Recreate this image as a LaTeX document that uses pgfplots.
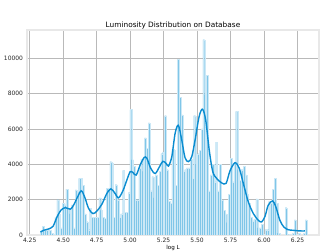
\documentclass[border=0pt]{standalone}
\usepackage{pgfplots}
\pgfplotsset{compat=1.18}
\usepackage{pgfplotstable}
\usepackage{fontspec}
\setmainfont{DejaVu Sans}
\definecolor{barfill}{RGB}{128,198,232}
\definecolor{kdeline}{RGB}{10,140,208}
\definecolor{gridc}{RGB}{185,185,185}
\definecolor{framec}{RGB}{232,232,232}
\pgfplotstableread{
x y
4.3368 200
4.3504 480
4.3641 260
4.3777 300
4.3913 300
4.4050 280
4.4186 100
4.4322 30
4.4458 1000
4.4595 2000
4.4731 1200
4.4867 400
4.5004 1800
4.5140 1700
4.5276 2600
4.5413 1500
4.5549 1200
4.5685 1700
4.5821 400
4.5958 2550
4.6094 2400
4.6230 3200
4.6367 3200
4.6503 2800
4.6639 1200
4.6776 750
4.6912 300
4.7048 1500
4.7184 1000
4.7321 1000
4.7457 1000
4.7593 1000
4.7730 2100
4.7866 1400
4.8002 1000
4.8139 950
4.8275 2650
4.8411 2650
4.8547 4150
4.8684 4050
4.8820 1000
4.8956 2850
4.9093 2000
4.9229 1000
4.9365 1200
4.9502 3650
4.9638 1300
4.9774 1300
4.9910 2400
5.0047 7100
5.0183 4250
5.0319 3900
5.0456 2000
5.0592 2000
5.0728 3800
5.0865 4300
5.1001 3600
5.1137 5500
5.1273 4900
5.1410 6350
5.1546 2500
5.1682 3300
5.1819 2100
5.1955 3400
5.2091 2800
5.2228 3600
5.2364 4600
5.2500 4700
5.2636 6750
5.2773 3700
5.2909 1900
5.3045 1800
5.3182 4850
5.3318 4800
5.3454 2800
5.3591 9950
5.3727 7800
5.3863 6800
5.3999 3600
5.4136 3700
5.4272 3800
5.4408 3800
5.4545 4300
5.4681 3200
5.4817 6750
5.4954 4000
5.5090 4600
5.5226 4800
5.5362 6000
5.5499 11050
5.5635 7950
5.5771 9050
5.5908 2500
5.6044 3400
5.6180 4000
5.6317 3000
5.6453 5250
5.6589 2500
5.6725 4000
5.6862 2000
5.6998 1400
5.7134 1200
5.7271 700
5.7407 2300
5.7543 4350
5.7680 3000
5.7816 4100
5.7952 7000
5.8088 3700
5.8225 3100
5.8361 3700
5.8497 3900
5.8634 3400
5.8770 2300
5.8906 1800
5.9043 1000
5.9179 800
5.9315 900
5.9451 2050
5.9588 400
5.9724 400
5.9860 600
5.9997 0
6.0133 300
6.0269 300
6.0406 1900
6.0542 1800
6.0678 2600
6.0814 3200
6.0951 1800
6.1087 100
6.1223 0
6.1360 0
6.1496 0
6.1632 1550
6.1769 0
6.1905 50
6.2041 0
6.2177 100
6.2314 850
6.2450 0
6.2586 100
6.2723 0
6.2859 0
6.2995 100
6.3132 850
}\histdata
\pgfplotstableread{
x y
4.330 170
4.354 265
4.390 340
4.424 490
4.454 1020
4.483 1400
4.516 1550
4.553 1460
4.578 1690
4.608 2160
4.635 2500
4.660 2160
4.690 1500
4.722 1210
4.752 1360
4.789 1740
4.826 2350
4.856 2610
4.884 2390
4.913 2100
4.946 2500
4.975 3100
5.000 3580
5.020 3540
5.045 3390
5.075 3960
5.105 4390
5.125 4340
5.154 3770
5.187 3480
5.219 3860
5.244 4170
5.269 4050
5.286 3900
5.311 4430
5.336 5760
5.360 6210
5.385 5380
5.410 4370
5.435 4150
5.460 4430
5.485 5380
5.515 6700
5.540 7120
5.564 6510
5.592 4720
5.617 3580
5.646 3200
5.683 2950
5.716 2920
5.746 3640
5.783 4090
5.815 3770
5.845 2920
5.882 1880
5.920 1210
5.957 830
5.982 740
6.007 1060
6.031 1690
6.064 1930
6.088 1590
6.118 830
6.148 450
6.180 300
6.218 265
6.267 230
6.305 230
}\kdedata
\begin{document}
\begin{tikzpicture}[x=1bp,y=1bp]
\useasboundingbox (0,0) rectangle (336,252);
\begin{axis}[
  at={(27bp,17bp)}, anchor=south west,
  scale only axis, width=292bp, height=205bp,
  xmin=4.23, xmax=6.41, ymin=0, ymax=11600,
  xtick={4.25,4.5,4.75,5,5.25,5.5,5.75,6,6.25},
  xticklabels={4.25,4.50,4.75,5.00,5.25,5.50,5.75,6.00,6.25},
  ytick={0,2000,4000,6000,8000,10000},
  scaled y ticks=false,
  yticklabel style={/pgf/number format/1000 sep={}},
  /pgf/number format/assume math mode=true,
  tick label style={font=\fontsize{6}{7}\selectfont, text=black!85},
  major tick length=0pt,
  xticklabel style={yshift=0.5bp},
  yticklabel style={xshift=-0.5bp},
  grid=major,
  major grid style={gridc, line width=0.7bp},
  axis line style={framec, line width=1.2bp},
  title={Luminosity Distribution on Database},
  title style={font=\fontsize{7.4}{8}\selectfont, yshift=-9bp},
  xlabel={log L},
  xlabel style={font=\fontsize{5.6}{6}\selectfont, yshift=4bp},
  clip=true,
]
\addplot[ybar, bar width=0.01363, bar shift=0pt, fill=barfill, draw=white!60!barfill, line width=0.08bp] table[x=x,y=y] {\histdata};
\addplot[kdeline, line width=1.4bp, smooth, tension=0.5] table[x=x,y=y] {\kdedata};
\node[rotate=90, font=\fontsize{4.8}{6}\selectfont, text=black!85] at (rel axis cs:-0.083,0.5) {Number of elements on database};
\end{axis}
\end{tikzpicture}
\end{document}
